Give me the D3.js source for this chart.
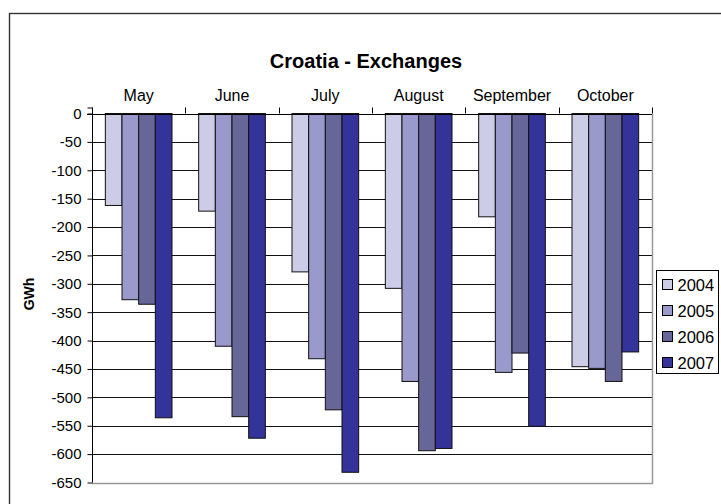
<!DOCTYPE html>
<html>
<head>
<meta charset="utf-8">
<script src="https://cdn.jsdelivr.net/npm/d3@7"></script>
<style>
  html, body { margin: 0; padding: 0; background: #fff; }
  svg { display: block; font-family: "Liberation Sans", Arial, sans-serif; }
</style>
</head>
<body>
<svg id="chart" width="721" height="504"></svg>
<script>
// Monthly cross-border exchanges of Croatia, GWh (negative = net import)
const months = ["May", "June", "July", "August", "September", "October"];
const years = ["2004", "2005", "2006", "2007"];
const values2004 = [-162, -172, -279, -308, -182, -446];
const values2005 = [-328, -410, -432, -472, -456, -449];
const values2006 = [-336, -534, -522, -594, -422, -472];
const values2007 = [-536, -572, -632, -590, -551, -420];
const yTicks = [0, -50, -100, -150, -200, -250, -300, -350, -400, -450, -500, -550, -600, -650];
const colors = ["#ccccE6", "#9999cc", "#666699", "#333399"];

const series = [values2004, values2005, values2006, values2007];

const svg = d3.select("#chart");

// outer chart frame
svg.append("rect")
  .attr("x", 9.5).attr("y", 13.5)
  .attr("width", 730).attr("height", 520)
  .attr("fill", "none").attr("stroke", "#333").attr("stroke-width", 1.4);

const plot = { left: 92, right: 652, top: 113.5, bottom: 482.5 };

const x = d3.scaleBand()
  .domain(months)
  .range([plot.left, plot.right])
  .paddingInner(2 / 7)
  .paddingOuter(1 / 7);

const xi = d3.scaleBand()
  .domain(years)
  .range([0, x.bandwidth()]);

const y = d3.scaleLinear()
  .domain([0, -650])
  .range([plot.top, plot.bottom]);

// horizontal gridlines
svg.append("g")
  .selectAll("line")
  .data(yTicks)
  .join("line")
  .attr("x1", plot.left).attr("x2", plot.right)
  .attr("y1", d => Math.round(y(d)) + 0.5).attr("y2", d => Math.round(y(d)) + 0.5)
  .attr("stroke", "#111").attr("stroke-width", 1);

// plot area border on right and bottom
svg.append("path")
  .attr("d", `M${plot.right + 0.5},${plot.top}V${Math.round(plot.bottom) + 0.5}H${plot.left}`)
  .attr("fill", "none").attr("stroke", "#999").attr("stroke-width", 1.5);

// bars
const groups = svg.append("g")
  .selectAll("g")
  .data(years)
  .join("g")
  .attr("fill", (d, i) => colors[i]);

groups.selectAll("rect")
  .data((yr, i) => months.map((m, j) => ({ month: m, year: yr, value: series[i][j] })))
  .join("rect")
  .attr("x", d => x(d.month) + xi(d.year))
  .attr("y", y(0))
  .attr("width", xi.bandwidth())
  .attr("height", d => y(d.value) - y(0))
  .attr("stroke", "#111").attr("stroke-width", 1);

// value axis on the left
const yAxis = d3.axisLeft(y)
  .tickValues(yTicks)
  .tickSize(5)
  .tickPadding(6)
  .tickFormat(d => d === 0 ? "0" : "-" + Math.abs(d));

svg.append("g")
  .attr("transform", `translate(${plot.left + 0.5},0)`)
  .call(yAxis)
  .call(g => g.select(".domain").attr("d", `M-5,${plot.top - 5.5}H0V${plot.bottom}`).attr("stroke", "#000"))
  .call(g => g.selectAll(".tick line").attr("stroke", "#000"))
  .call(g => g.selectAll(".tick text").attr("font-size", 15).attr("fill", "#000")
    .attr("font-family", "Liberation Sans, Arial, sans-serif"));

// category axis along the zero line with month labels above
const xAxis = d3.axisTop(x)
  .tickSize(0)
  .tickPadding(14);

svg.append("g")
  .attr("transform", `translate(0,${Math.round(plot.top) + 0.5})`)
  .call(xAxis)
  .call(g => g.select(".domain").attr("stroke", "#000").attr("d", `M${plot.left - 5},0H${plot.right}`))
  .call(g => g.selectAll(".tick text").attr("font-size", 16).attr("fill", "#000")
    .attr("font-family", "Liberation Sans, Arial, sans-serif"));

// boundary tick marks between months
const bounds = months.map(m => x(m) - x.step() * x.paddingInner() / 2)
  .concat([plot.right]);
svg.append("g")
  .selectAll("line")
  .data(bounds)
  .join("line")
  .attr("x1", d => Math.round(d) + 0.5).attr("x2", d => Math.round(d) + 0.5)
  .attr("y1", plot.top - 6).attr("y2", plot.top)
  .attr("stroke", "#000");

// title
svg.append("text")
  .attr("x", 366).attr("y", 68)
  .attr("text-anchor", "middle")
  .attr("font-size", 20).attr("font-weight", "bold")
  .text("Croatia - Exchanges");

// y-axis title
svg.append("text")
  .attr("transform", `translate(34,${(plot.top + plot.bottom) / 2 - 4}) rotate(-90)`)
  .attr("text-anchor", "middle")
  .attr("font-size", 14).attr("font-weight", "bold")
  .text("GWh");

// legend
const legend = svg.append("g").attr("transform", "translate(656.5,270.5)");
legend.append("rect")
  .attr("width", 62).attr("height", 103)
  .attr("fill", "#fff").attr("stroke", "#000").attr("stroke-width", 1);

const items = legend.selectAll("g.item")
  .data(years)
  .join("g")
  .attr("class", "item")
  .attr("transform", (d, i) => `translate(6,${14 + i * 26})`);

items.append("rect")
  .attr("x", 0).attr("y", -5)
  .attr("width", 10).attr("height", 10)
  .attr("fill", (d, i) => colors[i])
  .attr("stroke", "#000").attr("stroke-width", 1);

items.append("text")
  .attr("x", 15).attr("y", 6)
  .attr("font-size", 16.5)
  .text(d => d);
</script>
</body>
</html>
